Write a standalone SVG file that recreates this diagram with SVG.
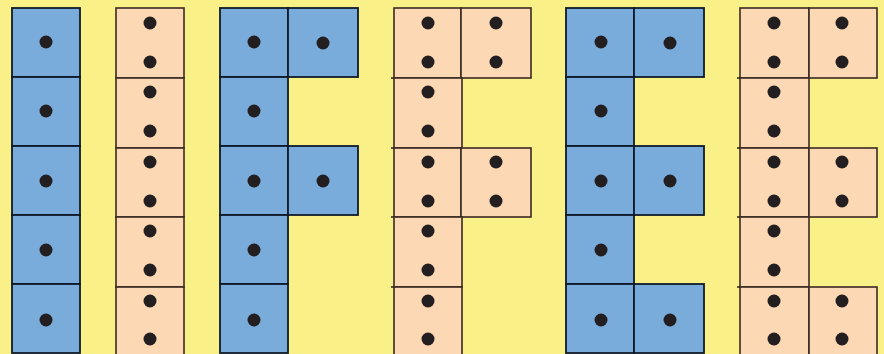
<svg xmlns="http://www.w3.org/2000/svg" width="884" height="354" viewBox="0 0 884 354">
<style>
.b{fill:#7aacdb;stroke:#0f1a2b;stroke-width:1.8}
.p{fill:#fdd8b4;stroke:#3a2a22;stroke-width:1.6}
.d{fill:#231f20}
.s{stroke:#3a2a22;stroke-width:1.6}
</style>
<rect width="884" height="354" fill="#f9f088"/>
<g id="blueI">
<rect class="b" x="12" y="8" width="68" height="69"/>
<rect class="b" x="12" y="77" width="68" height="69"/>
<rect class="b" x="12" y="146" width="68" height="69"/>
<rect class="b" x="12" y="215" width="68" height="69"/>
<rect class="b" x="12" y="284" width="68" height="69"/>
<circle class="d" cx="46" cy="42" r="6.5"/>
<circle class="d" cx="46" cy="111" r="6.5"/>
<circle class="d" cx="46" cy="181" r="6.5"/>
<circle class="d" cx="46" cy="250" r="6.5"/>
<circle class="d" cx="46" cy="320" r="6.5"/>
</g>
<g id="peachI">
<rect class="p" x="116" y="8" width="68" height="70"/>
<rect class="p" x="116" y="78" width="68" height="70"/>
<rect class="p" x="116" y="148" width="68" height="69"/>
<rect class="p" x="116" y="217" width="68" height="70"/>
<rect class="p" x="116" y="287" width="68" height="70"/>
<g class="d">
<circle cx="150" cy="23" r="6.5"/><circle cx="150" cy="62" r="6.5"/>
<circle cx="150" cy="92" r="6.5"/><circle cx="150" cy="131" r="6.5"/>
<circle cx="150" cy="162" r="6.5"/><circle cx="150" cy="201" r="6.5"/>
<circle cx="150" cy="231" r="6.5"/><circle cx="150" cy="270" r="6.5"/>
<circle cx="150" cy="301" r="6.5"/><circle cx="150" cy="339" r="6.5"/>
</g>
</g>
<g id="blueF">
<rect class="b" x="220" y="8" width="68" height="69"/>
<rect class="b" x="288" y="8" width="70" height="69"/>
<rect class="b" x="220" y="77" width="68" height="69"/>
<rect class="b" x="220" y="146" width="68" height="69"/>
<rect class="b" x="288" y="146" width="70" height="69"/>
<rect class="b" x="220" y="215" width="68" height="69"/>
<rect class="b" x="220" y="284" width="68" height="69"/>
<g class="d">
<circle cx="254" cy="42" r="6.5"/><circle cx="323" cy="43" r="6.5"/>
<circle cx="254" cy="111" r="6.5"/>
<circle cx="254" cy="181" r="6.5"/><circle cx="323" cy="181" r="6.5"/>
<circle cx="254" cy="250" r="6.5"/>
<circle cx="254" cy="320" r="6.5"/>
</g>
</g>
<g id="peachF">
<rect class="p" x="394" y="8" width="67" height="70"/>
<rect class="p" x="461" y="8" width="70" height="70"/>
<rect class="p" x="394" y="78" width="68" height="70"/>
<rect class="p" x="394" y="148" width="67" height="69"/>
<rect class="p" x="461" y="148" width="70" height="69"/>
<rect class="p" x="394" y="217" width="68" height="70"/>
<rect class="p" x="394" y="287" width="68" height="70"/>
<line class="s" x1="391" y1="78" x2="394" y2="78"/>
<line class="s" x1="391" y1="148" x2="394" y2="148"/>
<line class="s" x1="391" y1="217" x2="394" y2="217"/>
<line class="s" x1="391" y1="287" x2="394" y2="287"/>
<g class="d">
<circle cx="428" cy="23" r="6.5"/><circle cx="428" cy="62" r="6.5"/>
<circle cx="496" cy="23" r="6.5"/><circle cx="496" cy="62" r="6.5"/>
<circle cx="428" cy="92" r="6.5"/><circle cx="428" cy="131" r="6.5"/>
<circle cx="428" cy="162" r="6.5"/><circle cx="428" cy="201" r="6.5"/>
<circle cx="496" cy="162" r="6.5"/><circle cx="496" cy="201" r="6.5"/>
<circle cx="428" cy="231" r="6.5"/><circle cx="428" cy="270" r="6.5"/>
<circle cx="428" cy="301" r="6.5"/><circle cx="428" cy="339" r="6.5"/>
</g>
</g>
<g id="blueE">
<rect class="b" x="566" y="8" width="68" height="69"/>
<rect class="b" x="634" y="8" width="70" height="69"/>
<rect class="b" x="566" y="77" width="68" height="69"/>
<rect class="b" x="566" y="146" width="68" height="69"/>
<rect class="b" x="634" y="146" width="70" height="69"/>
<rect class="b" x="566" y="215" width="68" height="69"/>
<rect class="b" x="566" y="284" width="68" height="69"/>
<rect class="b" x="634" y="284" width="70" height="69"/>
<g class="d">
<circle cx="601" cy="42" r="6.5"/><circle cx="670" cy="43" r="6.5"/>
<circle cx="601" cy="111" r="6.5"/>
<circle cx="601" cy="181" r="6.5"/><circle cx="670" cy="181" r="6.5"/>
<circle cx="601" cy="250" r="6.5"/>
<circle cx="601" cy="320" r="6.5"/><circle cx="670" cy="320" r="6.5"/>
</g>
</g>
<g id="peachE">
<rect class="p" x="740" y="8" width="69" height="70"/>
<rect class="p" x="809" y="8" width="68" height="70"/>
<rect class="p" x="740" y="78" width="69" height="70"/>
<rect class="p" x="740" y="148" width="69" height="69"/>
<rect class="p" x="809" y="148" width="68" height="69"/>
<rect class="p" x="740" y="217" width="69" height="70"/>
<rect class="p" x="740" y="287" width="69" height="70"/>
<rect class="p" x="809" y="287" width="68" height="70"/>
<line class="s" x1="737" y1="78" x2="740" y2="78"/>
<line class="s" x1="737" y1="148" x2="740" y2="148"/>
<line class="s" x1="737" y1="217" x2="740" y2="217"/>
<line class="s" x1="737" y1="287" x2="740" y2="287"/>
<g class="d">
<circle cx="774" cy="23" r="6.5"/><circle cx="774" cy="62" r="6.5"/>
<circle cx="842" cy="23" r="6.5"/><circle cx="842" cy="62" r="6.5"/>
<circle cx="774" cy="92" r="6.5"/><circle cx="774" cy="131" r="6.5"/>
<circle cx="774" cy="162" r="6.5"/><circle cx="774" cy="201" r="6.5"/>
<circle cx="842" cy="162" r="6.5"/><circle cx="842" cy="201" r="6.5"/>
<circle cx="774" cy="231" r="6.5"/><circle cx="774" cy="270" r="6.5"/>
<circle cx="774" cy="301" r="6.5"/><circle cx="774" cy="339" r="6.5"/>
<circle cx="842" cy="301" r="6.5"/><circle cx="842" cy="339" r="6.5"/>
</g>
</g>
<g id="connectors"/>
</svg>
